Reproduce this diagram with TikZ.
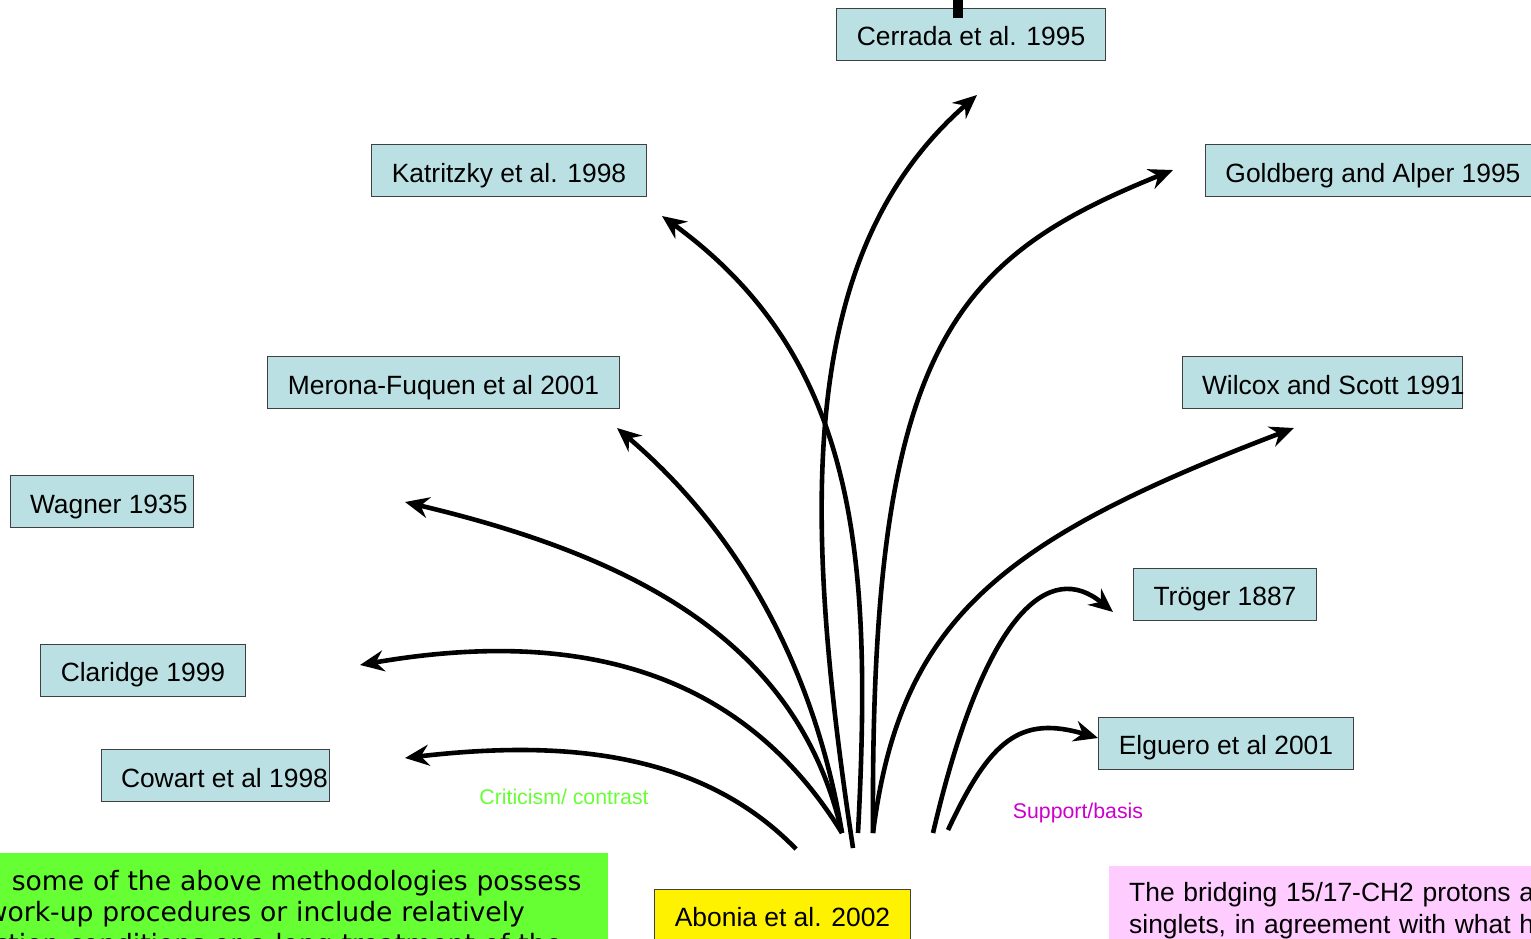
\documentclass[tikz,border=0pt]{standalone}
\usepackage{fontspec}
\setmainfont{Liberation Sans}
\newfontfamily\notefont{DejaVu Sans}
\usetikzlibrary{arrows.meta}
\definecolor{refblue}{RGB}{187,224,227}
\definecolor{notegreen}{RGB}{102,255,51}
\definecolor{notepink}{RGB}{255,204,255}
\definecolor{supmag}{RGB}{204,0,204}
\newcommand{\fixw}[2]{\makebox[#1][l]{#2}}

\begin{document}
\begin{tikzpicture}[
    x=1pt, y=-1pt,
    ref/.style={draw=black!75, line width=0.9pt, fill=refblue, minimum height=52pt, inner xsep=20pt, inner ysep=0pt,
        text height=28pt, text depth=5pt, font=\fontsize{26.4}{30}\selectfont},
    cite/.style={line width=4.6pt, -{Stealth[length=24pt, width=21pt, inset=8pt]}},
    tag/.style={font=\fontsize{21.3}{25}\selectfont}
]
    \useasboundingbox (0,0) rectangle (1531,938);
    \clip (0,0) rectangle (1531,938);

    % --- Cited works ---
    \node[ref] (cer) at (971,34) {Cerrada et al. 1995};
    \draw[line width=10pt] ([xshift=-13pt,yshift=-10pt]cer.north) -- ++(0,-20);
    \node[ref] (kat) at (509,170.5) {Katritzky et al. 1998};
    \node[ref, anchor=west] (gold) at (1205,170.5) {Goldberg and Alper 1995};
    \node[ref] (mer) at (443.5,382.5) {Merona-Fuquen et al 2001};
    \node[ref] (wil) at (1322,382.5) {\fixw{240pt}{Wilcox and Scott 1991}};
    \node[ref] (wag) at (101.5,501.5) {\fixw{143pt}{Wagner 1935}};
    \node[ref] (tro) at (1225,594) {Tröger 1887};
    \node[ref] (cla) at (143,670) {Claridge 1999};
    \node[ref] (cow) at (215,775.5) {\fixw{188pt}{Cowart et al 1998}};
    \node[ref] (elg) at (1226,743) {Elguero et al 2001};

    % --- Citing work ---
    \node[ref, fill=yellow, anchor=north] (abo) at (782.5,889) {Abonia et al. 2002};

    % --- Notes ---
    \node[anchor=north east, fill=notegreen, text width=610pt, inner xsep=12pt, inner ysep=17pt, align=left,
        font=\notefont\fontsize{26.6}{31.5}\selectfont] (meth) at (608,853)
        {\hspace*{26pt}some of the above methodologies possess\\work-up procedures or include relatively\\\hspace*{8pt}ction conditions or a long treatment of the};
    \node[anchor=north west, fill=notepink, text width=440pt, inner xsep=20pt, inner ysep=16pt, align=left,
        font=\fontsize{26.4}{32}\selectfont] (nmr) at (1109,866)
        {The bridging 15/17-CH2 protons a\\singlets, in agreement with what ha};
    \node[tag, text=notegreen] (crit) at (564,797) {Criticism/ contrast};
    \node[tag, text=supmag] (supp) at (1078,813) {Support/basis};

    % --- Arrow ends ---
    \coordinate (s-cow) at (796,849);
    \coordinate (s-left) at (842,833);
    \coordinate (s-cer) at (853,848);
    \coordinate (s-kat) at (858,833);
    \coordinate (s-right) at (873,833);
    \coordinate (s-tro) at (933,833);
    \coordinate (s-elg) at (948,830);
    \coordinate (t-cow) at (405,758);
    \coordinate (t-cla) at (360,665);
    \coordinate (t-wag) at (405,502);
    \coordinate (t-mer) at (617,428);
    \coordinate (t-kat) at (662,216);
    \coordinate (t-cer) at (977,95);
    \coordinate (t-gold) at (1173,170);
    \coordinate (t-wil) at (1294,428);
    \coordinate (t-tro) at (1113,612);
    \coordinate (t-elg) at (1098,738);

    % criticism
    \draw[cite] (s-cow) .. controls (700,750) and (560,740) .. (t-cow);
    \draw[cite] (s-left) .. controls (760,700) and (620,620) .. (t-cla);
    \draw[cite] (s-left) .. controls (800,650) and (650,560) .. (t-wag);
    \draw[cite] (s-left) .. controls (820,700) and (760,550) .. (t-mer);
    \draw[cite] (s-kat) .. controls (872,560) and (860,360) .. (t-kat);
    % support
    \draw[cite] (s-cer) .. controls (800,500) and (800,250) .. (t-cer);
    \draw[cite] (s-right) .. controls (870,350) and (950,260) .. (t-gold);
    \draw[cite] (s-right) .. controls (900,620) and (1000,540) .. (t-wil);
    \draw[cite] (s-tro) .. controls (985,610) and (1050,560) .. (t-tro);
    \draw[cite] (s-elg) .. controls (990,740) and (1020,715) .. (t-elg);
\end{tikzpicture}
\end{document}
